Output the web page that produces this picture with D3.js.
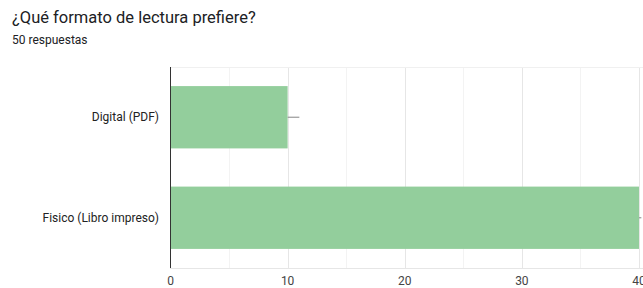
<!DOCTYPE html>
<html><head><meta charset="utf-8">
<script src="https://cdn.jsdelivr.net/npm/d3@7"></script>
<style>
html,body{margin:0;padding:0;background:#fff;overflow:hidden;}
svg{display:block;font-family:Roboto, Arial, sans-serif;}
</style></head>
<body>
<script>
const title = "¿Qué formato de lectura prefiere?";
const subtitle = "50 respuestas";
const categories = ["Digital (PDF)", "Fisico (Libro impreso)"];
const values = [10, 40];
const whiskerEnds = [11, 40.2];
const majorTicks = [0, 10, 20, 30, 40];
const minorTicks = [5, 15, 25, 35];

const W = 643, H = 288;
const svg = d3.select("body").append("svg").attr("width", W).attr("height", H);

svg.append("text").attr("x", 12).attr("y", 23).attr("font-size", 16.5)
  .attr("fill", "#202124").text(title);
svg.append("text").attr("x", 12).attr("y", 44).attr("font-size", 12)
  .attr("fill", "#202124").text(subtitle);

const x = d3.scaleLinear().domain([0, 40]).range([170.5, 639]);
const y = d3.scaleBand().domain(categories).range([67, 268]).paddingInner(0.38).paddingOuter(0.19);

const g = svg.append("g");
// gridlines
g.selectAll(".minor").data(minorTicks).join("line")
  .attr("x1", d => Math.round(x(d)) + 0.5).attr("x2", d => Math.round(x(d)) + 0.5)
  .attr("y1", 67).attr("y2", 268).attr("stroke", "#f3f3f3");
g.selectAll(".major").data(majorTicks.slice(1)).join("line")
  .attr("x1", d => Math.round(x(d)) + 0.5).attr("x2", d => Math.round(x(d)) + 0.5)
  .attr("y1", 67).attr("y2", 268).attr("stroke", "#e6e6e6");
g.append("line").attr("x1", 170).attr("x2", W).attr("y1", 67.5).attr("y2", 67.5).attr("stroke", "#f0f0f0");
g.append("line").attr("x1", 170).attr("x2", W).attr("y1", 268.5).attr("y2", 268.5).attr("stroke", "#e6e6e6");

// bars
g.selectAll(".bar").data(values).join("rect")
  .attr("x", x(0)).attr("y", (d, i) => y(categories[i]))
  .attr("width", d => x(d) - x(0)).attr("height", y.bandwidth())
  .attr("fill", "#93ce9c");

// whiskers
g.selectAll(".wh").data(whiskerEnds).join("line")
  .attr("x1", (d, i) => x(values[i])).attr("x2", d => x(d))
  .attr("y1", (d, i) => y(categories[i]) + y.bandwidth() / 2)
  .attr("y2", (d, i) => y(categories[i]) + y.bandwidth() / 2)
  .attr("stroke", "#999").attr("stroke-width", 1.2);

// y axis line
g.append("line").attr("x1", 170.5).attr("x2", 170.5).attr("y1", 67).attr("y2", 268)
  .attr("stroke", "#333").attr("stroke-width", 1);

// category labels
g.selectAll(".cat").data(categories).join("text")
  .attr("x", 159).attr("y", d => y(d) + y.bandwidth() / 2 + 4)
  .attr("text-anchor", "end").attr("font-size", 12).attr("fill", "#222").text(d => d);

// x tick labels
g.selectAll(".tick").data(majorTicks).join("text")
  .attr("x", d => x(d)).attr("y", 285).attr("text-anchor", "middle")
  .attr("font-size", 12).attr("fill", "#444").text(d => d);
</script>
</body></html>
